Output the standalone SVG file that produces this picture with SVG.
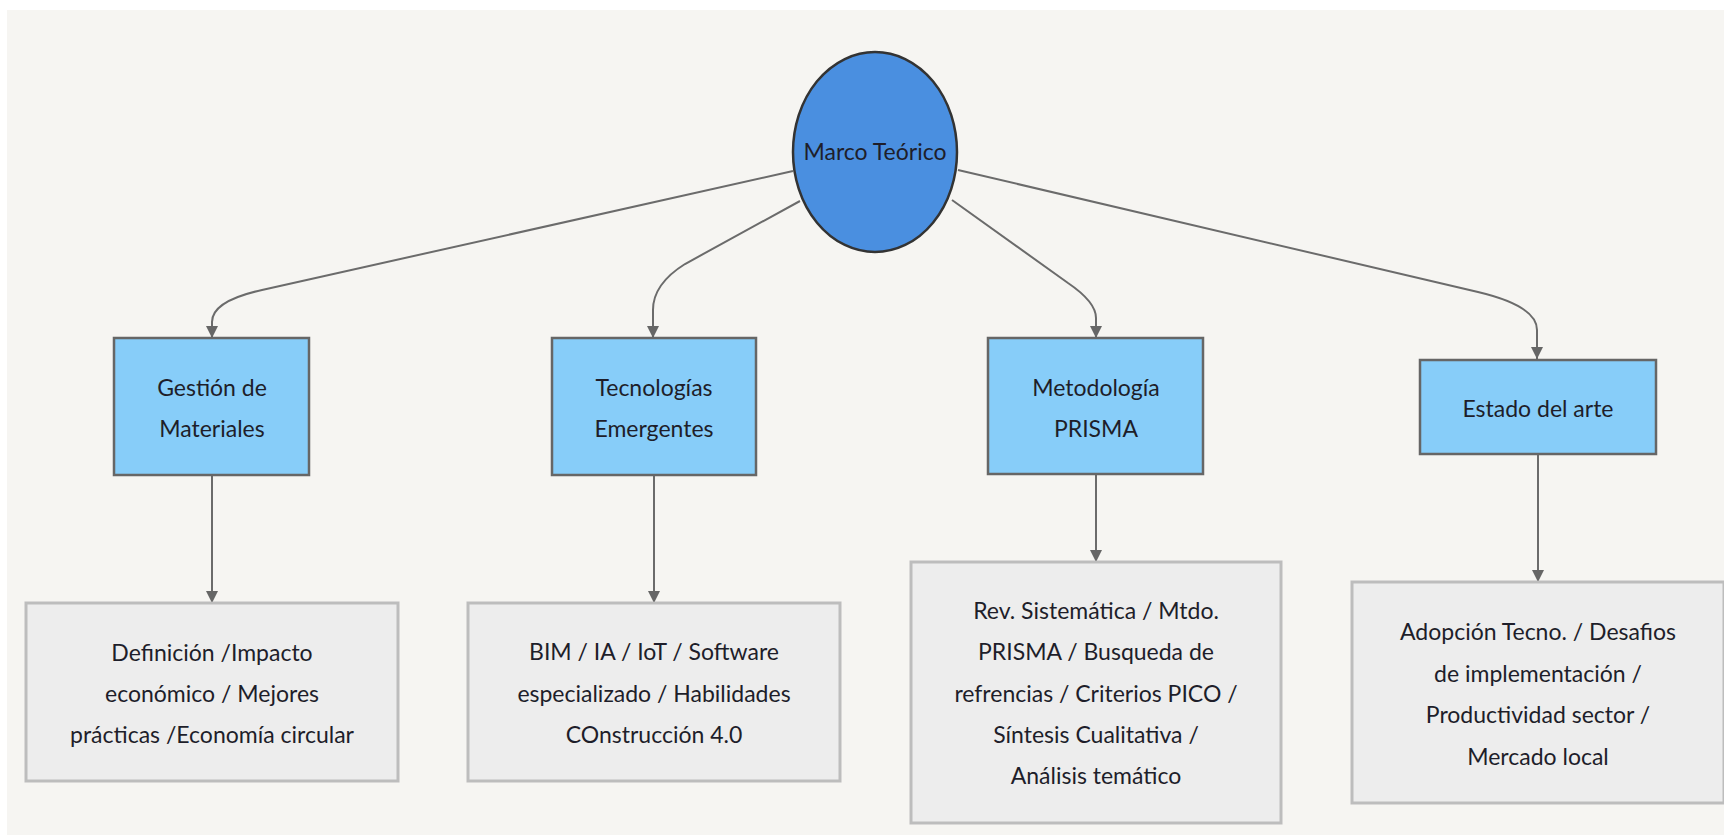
<svg xmlns="http://www.w3.org/2000/svg" width="1724" height="835" viewBox="0 0 1724 835">
<style>
.t{font-family:Lato,"Noto Sans","Liberation Sans",sans-serif;font-size:23px;fill:#1e1e2a;text-anchor:middle}
.blue{fill:#87cdf9;stroke:#666;stroke-width:2.5}
.gray{fill:#ededed;stroke:#bdbdbd;stroke-width:3}
.e{fill:none;stroke:#6b6b6b;stroke-width:2;marker-end:url(#ah)}
</style>
<defs>
<marker id="ah" viewBox="0 0 12 12" refX="12" refY="6" markerWidth="12" markerHeight="12" markerUnits="userSpaceOnUse" orient="auto">
<path d="M0,0 L12,6 L0,12 z" fill="#666"/>
</marker>
</defs>
<rect x="0" y="0" width="1724" height="835" fill="#ffffff"/>
<rect x="7" y="10" width="1717" height="825" fill="#f6f5f2"/>
<g id="connectors">
<path class="e" d="M793,171 L262,290 Q212,301 212,322 L212,338"/>
<path class="e" d="M800,201 L685,264 Q653,284 653,310 L653,338"/>
<path class="e" d="M952,200 L1068,283 Q1096,302 1096,318 L1096,338"/>
<path class="e" d="M958,170 L1478,292 Q1537,306 1537,330 L1537,359"/>
<path class="e" d="M212,475 L212,603"/>
<path class="e" d="M654,475 L654,603"/>
<path class="e" d="M1096,474 L1096,562"/>
<path class="e" d="M1538,454 L1538,582"/>
</g>
<g id="marco">
<ellipse cx="875" cy="152" rx="82" ry="100" fill="#4a8fe0" stroke="#333" stroke-width="2.5"/>
<text class="t" x="875" y="160">Marco Teórico</text>
</g>
<g id="gestion">
<rect class="blue" x="114" y="338" width="195" height="137"/>
<text class="t" x="212" y="396">Gestión de</text>
<text class="t" x="212" y="437">Materiales</text>
</g>
<g id="tecnologias">
<rect class="blue" x="552" y="338" width="204" height="137"/>
<text class="t" x="654" y="396">Tecnologías</text>
<text class="t" x="654" y="437">Emergentes</text>
</g>
<g id="metodologia">
<rect class="blue" x="988" y="338" width="215" height="136"/>
<text class="t" x="1096" y="396">Metodología</text>
<text class="t" x="1096" y="437">PRISMA</text>
</g>
<g id="estado">
<rect class="blue" x="1420" y="360" width="236" height="94"/>
<text class="t" x="1538" y="417">Estado del arte</text>
</g>
<g id="gestion-detalle">
<rect class="gray" x="26" y="603" width="372" height="178"/>
<text class="t" x="212" y="661">Definición /Impacto</text>
<text class="t" x="212" y="702">económico / Mejores</text>
<text class="t" x="212" y="743">prácticas /Economía circular</text>
</g>
<g id="tecnologias-detalle">
<rect class="gray" x="468" y="603" width="372" height="178"/>
<text class="t" x="654" y="660">BIM / IA / IoT / Software</text>
<text class="t" x="654" y="702">especializado / Habilidades</text>
<text class="t" x="654" y="743">COnstrucción 4.0</text>
</g>
<g id="metodologia-detalle">
<rect class="gray" x="911" y="562" width="370" height="261"/>
<text class="t" x="1096" y="619">Rev. Sistemática / Mtdo.</text>
<text class="t" x="1096" y="660">PRISMA / Busqueda de</text>
<text class="t" x="1096" y="702">refrencias / Criterios PICO /</text>
<text class="t" x="1096" y="743">Síntesis Cualitativa /</text>
<text class="t" x="1096" y="784">Análisis temático</text>
</g>
<g id="estado-detalle">
<rect class="gray" x="1352" y="582" width="372" height="221"/>
<text class="t" x="1538" y="640">Adopción Tecno. / Desafios</text>
<text class="t" x="1538" y="682">de implementación /</text>
<text class="t" x="1538" y="723">Productividad sector /</text>
<text class="t" x="1538" y="765">Mercado local</text>
</g>
</svg>
